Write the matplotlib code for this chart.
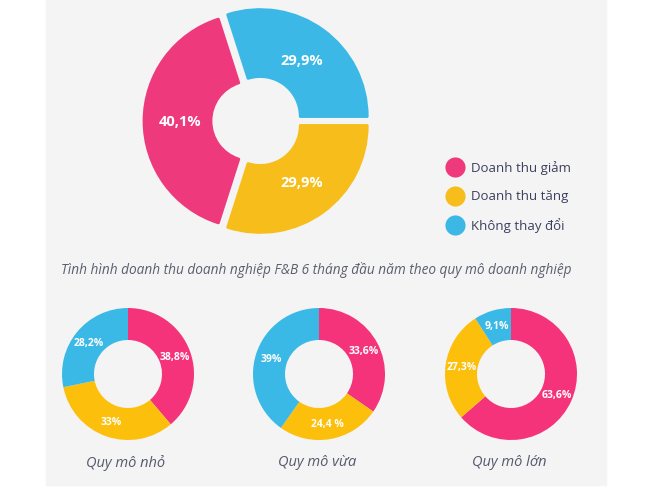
import matplotlib.pyplot as plt
from matplotlib.patches import Rectangle
import numpy as np

plt.rcParams['font.family'] = ['Open Sans', 'DejaVu Sans']

# du lieu
nhom = ["Doanh thu giảm", "Doanh thu tăng", "Không thay đổi"]
mau = ["#EE3A7C", "#F7BE1B", "#3BB8E6"]
mau_nho = ["#F5337A", "#FCBF0B", "#3AB9E6"]

tong_gia_tri = [40.1, 29.9, 29.9]
tong_nhan = ["40,1%", "29,9%", "29,9%"]

quy_mo = ["Quy mô nhỏ", "Quy mô vừa", "Quy mô lớn"]
quy_mo_gia_tri = [[38.8, 33, 28.2], [33.6, 24.4, 39], [63.6, 27.3, 9.1]]
quy_mo_nhan = [["38,8%", "33%", "28,2%"], ["33,6%", "24,4 %", "39%"], ["63,6%", "27,3%", "9,1%"]]

tieu_de = "Tình hình doanh thu doanh nghiệp F&B 6 tháng đầu năm theo quy mô doanh nghiệp"

W, H = 650, 489
fig = plt.figure(figsize=(6.5, 4.89), dpi=100)
fig.patch.set_facecolor("white")
ax = fig.add_axes([0, 0, 1, 1])

ax.add_patch(Rectangle((46, H - 486), 560, 486, color="#F4F4F4", zorder=0))


def dat_nhan(wedges, nhan, dist, size):
    for w, t in zip(wedges, nhan):
        a = np.deg2rad((w.theta1 + w.theta2) / 2)
        cx, cy = w.center
        ax.text(cx + dist * w.r * np.cos(a), cy + dist * w.r * np.sin(a), t,
                ha="center", va="center", color="white", fontsize=size,
                fontweight="bold", zorder=5)


# donut lon (explode tinh bang pixel)
r_lon = 107
start = 360 * tong_gia_tri[2] / sum(tong_gia_tri)
wedges, _ = ax.pie(tong_gia_tri, colors=mau, center=(257, H - 122), radius=r_lon,
                   startangle=start, counterclock=True, explode=[6, 5.5, 5.5],
                   wedgeprops=dict(width=67, linewidth=0))
for w, c in zip(wedges, mau):
    w.set_edgecolor(c)
    w.set_linewidth(2)
    w.set_joinstyle("round")
dat_nhan(wedges, tong_nhan, 0.66, 10.5)

# chu thich
for i, (ten, c) in enumerate(zip(nhom, mau)):
    y = H - (168 + 29 * i)
    ax.scatter([455], [y], s=210, color=c, zorder=4, linewidths=0)
    ax.text(471, y, ten, ha="left", va="center", fontsize=9.5, color="#3B3F5C")

ax.text(316, H - 270, tieu_de, ha="center", va="center", fontsize=9.8,
        style="italic", color="#5A5E6E")

# donut nho
tam_x = [128, 319, 511]
for k in range(3):
    wedges, _ = ax.pie(quy_mo_gia_tri[k], colors=mau_nho, center=(tam_x[k], H - 375),
                       radius=66, startangle=90, counterclock=False,
                       wedgeprops=dict(width=32, linewidth=0))
    dat_nhan(wedges, quy_mo_nhan[k], 0.76, 7.5)
    ax.text(tam_x[k] - 2, H - 463, quy_mo[k], ha="center", va="center",
            fontsize=10.5, style="italic", color="#55596B")

ax.set_xlim(0, W)
ax.set_ylim(0, H)
ax.set_aspect("auto")
ax.axis("off")

fig.savefig("out.png", dpi=100, facecolor="white")
